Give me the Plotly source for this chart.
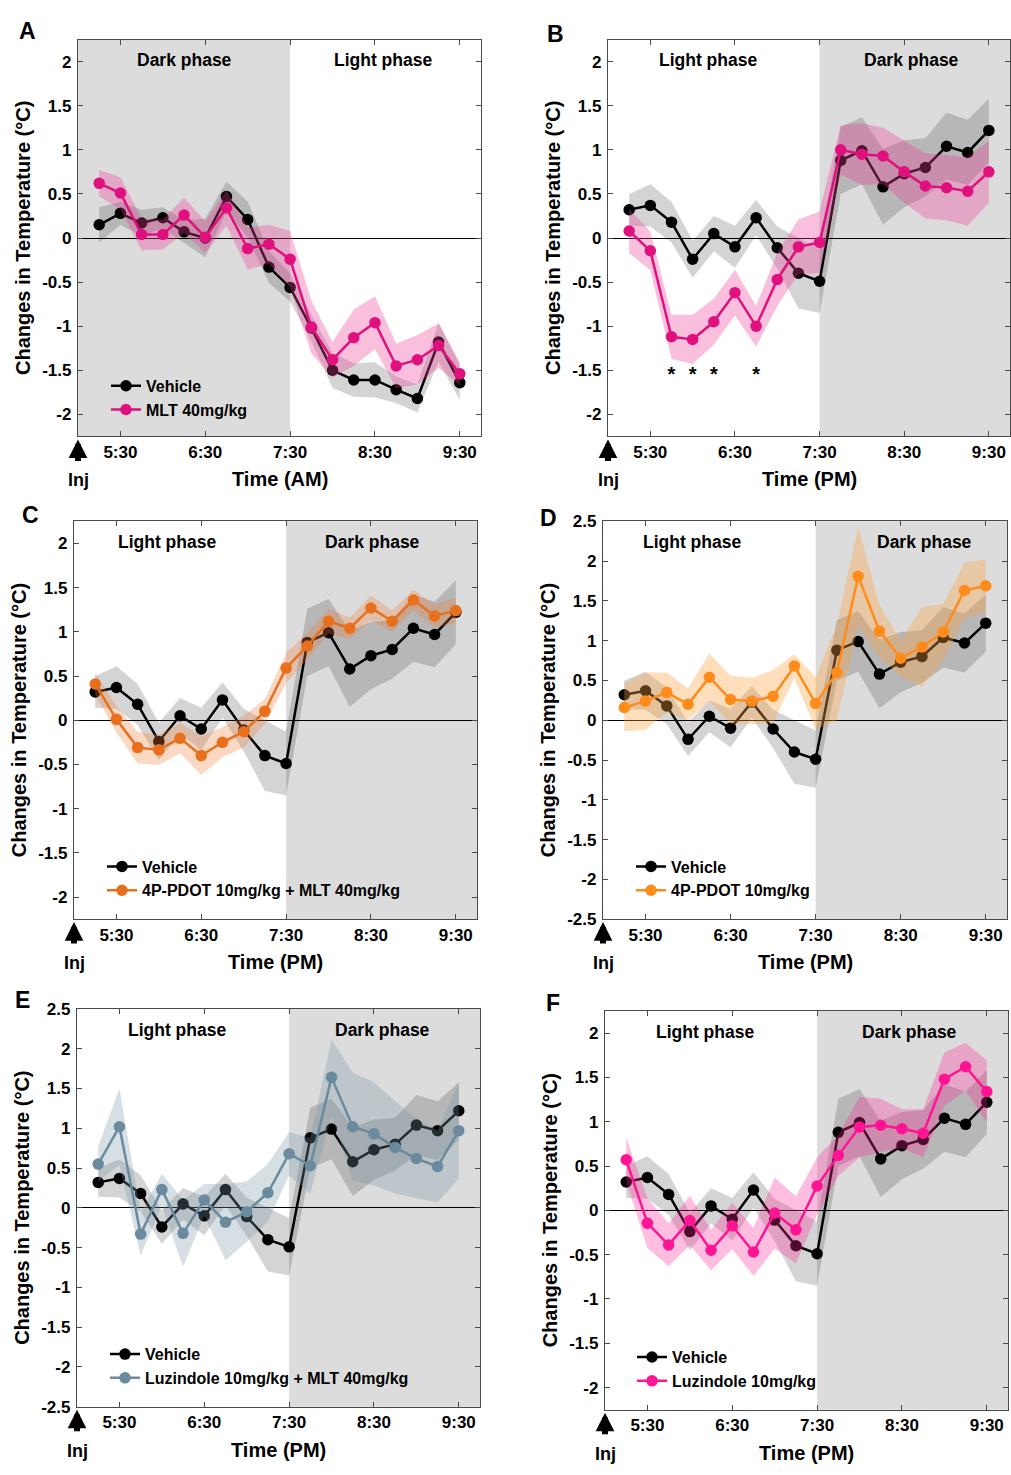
import plotly.graph_objects as go

# ---------------- data ----------------
time_min = [15, 30, 45, 60, 75, 90, 105, 120, 135, 150, 165, 180, 195, 210, 225, 240, 255, 270]
tick_vals = [30, 90, 150, 210, 270]
tick_text = ["5:30", "6:30", "7:30", "8:30", "9:30"]

vehicle_am = [0.15, 0.28, 0.17, 0.23, 0.07, 0.0, 0.47, 0.21, -0.33, -0.56, -1.02, -1.50, -1.61, -1.61, -1.72, -1.82, -1.18, -1.64]
vehicle_am_sem = [0.2, 0.13, 0.15, 0.12, 0.13, 0.22, 0.17, 0.2, 0.18, 0.16, 0.15, 0.2, 0.19, 0.2, 0.15, 0.16, 0.22, 0.2]
mlt_am = [0.62, 0.51, 0.04, 0.04, 0.26, 0.01, 0.34, -0.12, -0.07, -0.24, -1.01, -1.38, -1.13, -0.96, -1.45, -1.38, -1.22, -1.54]
mlt_am_sem = [0.15, 0.18, 0.18, 0.17, 0.2, 0.18, 0.2, 0.24, 0.22, 0.32, 0.3, 0.2, 0.32, 0.3, 0.25, 0.28, 0.25, 0.13]

vehicle_pm = [0.32, 0.37, 0.18, -0.24, 0.05, -0.10, 0.23, -0.11, -0.40, -0.49, 0.88, 0.99, 0.58, 0.73, 0.80, 1.04, 0.97, 1.22]
vehicle_pm_sem = [0.18, 0.24, 0.23, 0.21, 0.2, 0.24, 0.2, 0.24, 0.4, 0.36, 0.38, 0.38, 0.43, 0.38, 0.33, 0.38, 0.37, 0.36]
mlt_pm = [0.08, -0.145, -1.12, -1.15, -0.95, -0.62, -1.0, -0.47, -0.10, -0.05, 1.0, 0.95, 0.93, 0.75, 0.59, 0.57, 0.53, 0.75]
mlt_pm_sem = [0.25, 0.22, 0.25, 0.28, 0.26, 0.26, 0.23, 0.3, 0.31, 0.35, 0.28, 0.35, 0.32, 0.35, 0.37, 0.37, 0.39, 0.35]
pdot_mlt = [0.41, 0.01, -0.31, -0.335, -0.205, -0.40, -0.25, -0.13, 0.10, 0.59, 0.84, 1.12, 1.04, 1.27, 1.12, 1.36, 1.18, 1.24]
pdot_mlt_sem = [0.12, 0.15, 0.18, 0.17, 0.17, 0.22, 0.17, 0.18, 0.14, 0.17, 0.15, 0.14, 0.12, 0.14, 0.12, 0.12, 0.13, 0.15]
pdot = [0.16, 0.24, 0.35, 0.20, 0.54, 0.26, 0.24, 0.30, 0.68, 0.21, 0.60, 1.81, 1.12, 0.78, 0.92, 1.11, 1.63, 1.69]
pdot_sem = [0.3, 0.36, 0.25, 0.2, 0.3, 0.3, 0.29, 0.33, 0.15, 0.33, 0.6, 0.62, 0.33, 0.22, 0.5, 0.35, 0.35, 0.33]
luz_mlt = [0.55, 1.02, -0.33, 0.23, -0.32, 0.10, -0.18, -0.05, 0.19, 0.68, 0.53, 1.64, 1.02, 0.93, 0.76, 0.62, 0.52, 0.97]
luz_mlt_sem = [0.22, 0.48, 0.27, 0.2, 0.42, 0.2, 0.48, 0.38, 0.36, 0.27, 0.35, 0.48, 0.68, 0.65, 0.58, 0.5, 0.45, 0.6]
luz = [0.57, -0.145, -0.39, -0.115, -0.45, -0.175, -0.47, -0.03, -0.22, 0.275, 0.62, 0.94, 0.96, 0.92, 0.87, 1.48, 1.62, 1.34]
luz_sem = [0.25, 0.28, 0.24, 0.28, 0.23, 0.26, 0.27, 0.4, 0.38, 0.32, 0.23, 0.34, 0.3, 0.22, 0.27, 0.3, 0.27, 0.35]

star_times = [45, 60, 75, 105]
star_y = [-1.56, -1.56, -1.56, -1.56]

yt_225 = [-2, -1.5, -1, -0.5, 0, 0.5, 1, 1.5, 2]
yt_25 = [-2.5, -2, -1.5, -1, -0.5, 0, 0.5, 1, 1.5, 2, 2.5]

# ---------------- layout helpers ----------------
W, H = 1011, 1475
FONT = "Arial, Liberation Sans, Helvetica, sans-serif"
X_MAX = 285

def fmt(v):
    return "%g" % v

panels = [
    dict(letter="A", box=(78, 481, 31, 433), lpos=(27, 22), yr=[-2.25, 2.25], yt=yt_225,
         dark=(0, 150), dark_lab=75, light_lab=216, xtitle="Time (AM)",
         veh=vehicle_am, vsem=vehicle_am_sem, trt=mlt_am, tsem=mlt_am_sem,
         name="MLT 40mg/kg", color="#e0117f", band="rgba(238,60,150,0.33)", leg=(148, 390)),
    dict(letter="B", box=(608, 1010, 31, 433), lpos=(555, 25), yr=[-2.25, 2.25], yt=yt_225,
         dark=(150, X_MAX), dark_lab=215, light_lab=71, xtitle="Time (PM)",
         veh=vehicle_pm, vsem=vehicle_pm_sem, trt=mlt_pm, tsem=mlt_pm_sem,
         name="MLT 40mg/kg", color="#e0117f", band="rgba(238,60,150,0.33)", leg=None),
    dict(letter="C", box=(74, 477, 519, 922), lpos=(30, 513), yr=[-2.25, 2.25], yt=yt_225,
         dark=(150, X_MAX), dark_lab=211, light_lab=66, xtitle="Time (PM)",
         veh=vehicle_pm, vsem=vehicle_pm_sem, trt=pdot_mlt, tsem=pdot_mlt_sem,
         name="4P-PDOT 10mg/kg + MLT 40mg/kg", color="#e8701c", band="rgba(240,125,55,0.30)", leg=(144, 877)),
    dict(letter="D", box=(603, 1007, 519, 922), lpos=(548, 516), yr=[-2.5, 2.5], yt=yt_25,
         dark=(150, X_MAX), dark_lab=227, light_lab=63, xtitle="Time (PM)",
         veh=vehicle_pm, vsem=vehicle_pm_sem, trt=pdot, tsem=pdot_sem,
         name="4P-PDOT 10mg/kg", color="#ff8c1a", band="rgba(255,160,60,0.35)", leg=(673, 877)),
    dict(letter="E", box=(77, 480, 1013, 1416), lpos=(22, 1004), yr=[-2.5, 2.5], yt=yt_25,
         dark=(150, X_MAX), dark_lab=216, light_lab=71, xtitle="Time (PM)",
         veh=vehicle_pm, vsem=vehicle_pm_sem, trt=luz_mlt, tsem=luz_mlt_sem,
         name="Luzindole 10mg/kg + MLT 40mg/kg", color="#6a8a9e", band="rgba(120,150,165,0.30)", leg=(147, 1371)),
    dict(letter="F", box=(605, 1008, 1015, 1419), lpos=(553, 1007), yr=[-2.25, 2.25], yt=yt_225,
         dark=(150, X_MAX), dark_lab=215, light_lab=71, xtitle="Time (PM)",
         veh=vehicle_pm, vsem=vehicle_pm_sem, trt=luz, tsem=luz_sem,
         name="Luzindole 10mg/kg", color="#ff1493", band="rgba(255,40,150,0.30)", leg=(674, 1374)),
]

fig = go.Figure()
layout = dict(width=W, height=H, margin=dict(l=0, r=0, t=0, b=0),
              paper_bgcolor="white", plot_bgcolor="white",
              font=dict(family=FONT, color="black"), showlegend=True)
annotations = []
shapes = []

def band_trace(x, m, s, fill, xa, ya):
    up = [a + b for a, b in zip(m, s)]
    lo = [a - b for a, b in zip(m, s)]
    return go.Scatter(x=list(x) + list(x)[::-1], y=up + lo[::-1], fill="toself",
                      fillcolor=fill, line=dict(width=0), mode="lines",
                      hoverinfo="skip", showlegend=False, xaxis=xa, yaxis=ya)

for i, p in enumerate(panels):
    n = "" if i == 0 else str(i + 1)
    xa, ya = "x" + n, "y" + n
    l, r, t, b = p["box"]
    legname = "legend" + n
    has_leg = p["leg"] is not None

    fig.add_trace(band_trace(time_min, p["veh"], p["vsem"], "rgba(0,0,0,0.17)", xa, ya))
    fig.add_trace(go.Scatter(x=time_min, y=p["veh"], mode="lines+markers", name="Vehicle",
                             line=dict(color="black", width=2.5), marker=dict(color="black", size=11.5),
                             xaxis=xa, yaxis=ya, showlegend=has_leg, legend=legname))
    fig.add_trace(band_trace(time_min, p["trt"], p["tsem"], p["band"], xa, ya))
    fig.add_trace(go.Scatter(x=time_min, y=p["trt"], mode="lines+markers", name=p["name"],
                             line=dict(color=p["color"], width=2.5), marker=dict(color=p["color"], size=11.5),
                             xaxis=xa, yaxis=ya, showlegend=has_leg, legend=legname))
    if p["letter"] == "B":
        fig.add_trace(go.Scatter(x=star_times, y=star_y, mode="text", text=["*"] * len(star_times),
                                 textfont=dict(size=20, family=FONT, color="black", weight=700),
                                 showlegend=False, hoverinfo="skip", xaxis=xa, yaxis=ya))

    axis_common = dict(showline=True, mirror="ticks", linecolor="#4a4a4a", linewidth=1.3,
                       ticks="inside", ticklen=5, tickcolor="#4a4a4a", tickwidth=1.2,
                       showgrid=False, tickfont=dict(family=FONT, size=17, color="black", weight=700))
    layout["xaxis" + n] = dict(axis_common, domain=[l / W, r / W], anchor=ya, range=[0, X_MAX],
                               tickvals=tick_vals, ticktext=tick_text, zeroline=False,
                               ticklabelstandoff=0)
    layout["yaxis" + n] = dict(axis_common, domain=[1 - b / H, 1 - t / H], anchor=xa, range=p["yr"],
                               tickvals=p["yt"], ticktext=[fmt(v) for v in p["yt"]],
                               zeroline=True, zerolinecolor="black", zerolinewidth=1,
                               ticklabelstandoff=2)

    if has_leg:
        lx, ly = p["leg"]
        layout[legname] = dict(x=(lx - 42) / W, y=1 - (ly - 25.5) / H, xanchor="left", yanchor="top",
                               xref="paper", yref="paper",
                               bgcolor="rgba(0,0,0,0)", borderwidth=0, tracegroupgap=0,
                               font=dict(family=FONT, size=16, color="black", weight=700))

    # shaded dark phase
    shapes.append(dict(type="rect", xref=xa, yref=ya + " domain", x0=p["dark"][0], x1=p["dark"][1],
                       y0=0, y1=1, fillcolor="#dcdcdc", line=dict(width=0), layer="below"))

    bold = dict(family=FONT, color="black", weight=700)
    annotations += [
        dict(text="Dark phase", x=p["dark_lab"], xref=xa, y=0.948, yref=ya + " domain",
             xanchor="center", yanchor="middle", showarrow=False, font=dict(bold, size=17.5)),
        dict(text="Light phase", x=p["light_lab"], xref=xa, y=0.948, yref=ya + " domain",
             xanchor="center", yanchor="middle", showarrow=False, font=dict(bold, size=17.5)),
        dict(text=p["xtitle"], x=0.5, xref=xa + " domain", y=0, yref=ya + " domain", yshift=-43,
             xanchor="center", yanchor="middle", showarrow=False, font=dict(bold, size=20)),
        dict(text="Changes in Temperature (°C)", x=0, xref=xa + " domain", xshift=-55,
             y=0.5, yref=ya + " domain", xanchor="center", yanchor="middle",
             textangle=-90, showarrow=False, font=dict(bold, size=20)),
        dict(text="Inj", x=0, xref=xa + " domain", y=0, yref=ya + " domain", yshift=-44,
             xanchor="center", yanchor="middle", showarrow=False, font=dict(bold, size=18)),
        dict(text="", x=0, xref=xa + " domain", y=0, yref=ya + " domain", yshift=-3,
             ax=0, ay=23, showarrow=True, arrowhead=2, arrowsize=0.62, arrowwidth=6,
             arrowcolor="black"),
        dict(text=p["letter"], x=p["lpos"][0] / W, y=1 - p["lpos"][1] / H, xref="paper", yref="paper",
             xanchor="center", yanchor="middle", showarrow=False, font=dict(bold, size=23)),
    ]

layout["annotations"] = annotations
layout["shapes"] = shapes
fig.update_layout(**layout)
fig.write_html("out.html", config={"displayModeBar": False},
               post_script="document.body.style.margin='0px';document.documentElement.style.overflow='hidden';")
